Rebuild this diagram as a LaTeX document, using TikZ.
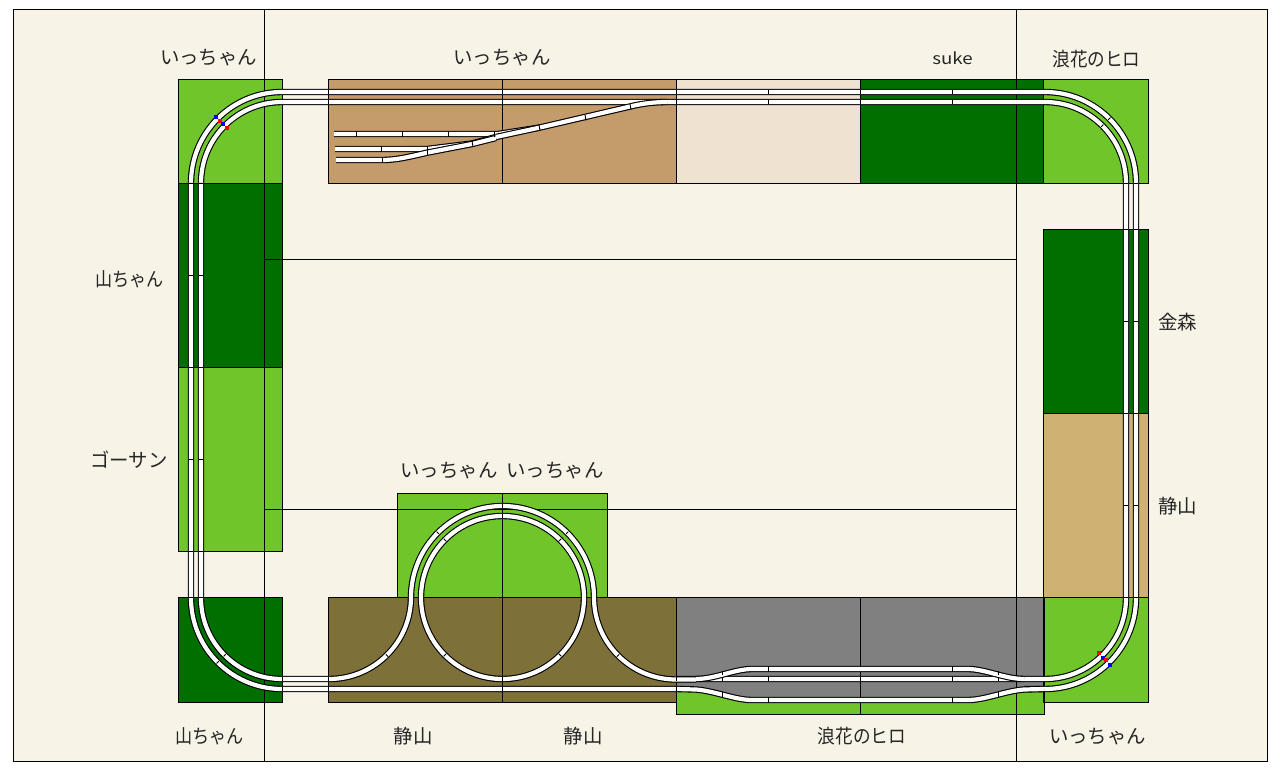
\documentclass[tikz,border=0pt]{standalone}
\usepackage{graphicx}
\usepackage{fontspec}
\setmainfont{Noto Sans CJK JP}
\definecolor{bgc}{HTML}{F7F3E6}
\definecolor{lg}{HTML}{70C52A}
\definecolor{dg}{HTML}{006F00}
\definecolor{brn}{HTML}{C49C6C}
\definecolor{pale}{HTML}{EFE2D0}
\definecolor{tan2}{HTML}{CFB173}
\definecolor{olv}{HTML}{7D7039}
\definecolor{gry}{HTML}{808080}
\tikzset{
  plate/.style={draw=black,line width=1pt},
  grid line/.style={black,line width=1pt},
  track/.style={draw=black,line width=1.1pt,double=white,double distance=4.2pt},
  tie/.style={black,line width=0.9pt},
  lab/.style={font=\fontsize{19.4}{20}\selectfont,inner sep=0pt,text=black!85},
  labs/.style={font=\fontsize{16}{18}\selectfont,inner sep=0pt,text=black!85},
  mk/.style={minimum size=3.8pt,inner sep=0pt,outer sep=0pt}
}
\newcommand{\tiesH}[2]{\foreach \a in {#2} {\draw[tie] (\a,#1-1.6) -- (\a,#1+1.6);}}
\newcommand{\tiesV}[2]{\foreach \a in {#2} {\draw[tie] (#1-1.6,\a) -- (#1+1.6,\a);}}
\newcommand{\tiesF}[2]{\foreach \a in {#2} {\draw[tie] (\a,#1-2.6) -- (\a,#1+2.6);}}
\newcommand{\tieR}[3]{\draw[tie] (#1,#2) ++(#3:-1.6) -- ++(#3:3.2);}
\begin{document}
\begin{tikzpicture}[x=1pt,y=-1pt]
\useasboundingbox (0,0) rectangle (1280,770);
\fill[white] (0,0) rectangle (1280,770);
\draw[plate,fill=bgc] (13.5,9.5) rectangle (1267.5,761.5);
% plates
\draw[plate,fill=lg] (178.5,79.5) rectangle (282.5,183.5);
\draw[plate,fill=dg] (178.5,183.5) rectangle (282.5,367.5);
\draw[plate,fill=lg] (178.5,367.5) rectangle (282.5,551.5);
\draw[plate,fill=dg] (178.5,597.5) rectangle (282.5,702.5);
\draw[plate,fill=brn] (328.5,79.5) rectangle (676.5,183.5);
\draw[plate,fill=pale] (676.5,79.5) rectangle (860.5,183.5);
\draw[plate,fill=dg] (860.5,79.5) rectangle (1043.7,183.5);
\draw[plate,fill=lg] (1043.7,79.5) rectangle (1148.5,183.5);
\draw[plate,fill=dg] (1043.7,229.5) rectangle (1148.5,413.5);
\draw[plate,fill=tan2] (1043.7,413.5) rectangle (1148.5,597.5);
\draw[plate,fill=lg] (1043.7,597.5) rectangle (1148.5,702.5);
\draw[plate,fill=lg] (397.5,493.5) rectangle (607.5,597.5);
\draw[plate,fill=olv] (328.5,597.5) rectangle (676.5,702.5);
\draw[plate,fill=lg] (676.5,597.5) rectangle (1044.5,714.5);
\fill[gry] (676.5,597.5) -- (1043.7,597.5) -- (1043.7,689) -- (1024,689.5)
  .. controls (1005,691) and (985,700) .. (968,700) -- (752,700)
  .. controls (735,700) and (715,691) .. (696,689.5) -- (676.5,689) -- cycle;
\draw[plate] (676.5,689) -- (676.5,597.5) -- (1043.7,597.5) -- (1043.7,702.5);
% grid lines
\draw[grid line] (264.5,9.5) -- (264.5,761.5);
\draw[grid line] (1016.5,9.5) -- (1016.5,761.5);
\draw[grid line] (264.5,259.5) -- (1016.5,259.5);
\draw[grid line] (264.5,509.5) -- (1016.5,509.5);
\draw[grid line] (502.5,79.5) -- (502.5,183.5);
\draw[grid line] (502.5,493.5) -- (502.5,702.5);
\draw[grid line] (860.5,597.5) -- (860.5,714.5);
% main oval, outer and inner
\draw[track] (191,183) arc[start angle=180,end angle=270,radius=91] -- (1045,92)
  arc[start angle=270,end angle=360,radius=91] -- (1136,598)
  arc[start angle=0,end angle=90,radius=91] -- (1024,689);
\draw[track] (201,183) arc[start angle=180,end angle=270,radius=81] -- (1045,102)
  arc[start angle=270,end angle=360,radius=81] -- (1126,598)
  arc[start angle=0,end angle=90,radius=81] -- (676,679);
\draw[track] (191,183) -- (191,598) arc[start angle=180,end angle=90,radius=91] -- (676,689);
\draw[track] (201,183) -- (201,598) arc[start angle=180,end angle=90,radius=81] -- (329,679)
  arc[start angle=90,end angle=0,radius=82] -- (411,597.5)
  arc[start angle=180,end angle=360,radius=91.5]
  arc[start angle=180,end angle=90,radius=82] -- (696,679.5);
\draw[track] (502.5,516) arc[start angle=270,end angle=630,radius=81.5];
% passing loop
\draw[track] (676,689) -- (696,689.5) .. controls (715,691) and (735,700) .. (752,700) -- (968,700)
  .. controls (985,700) and (1005,691) .. (1024,689.5) -- (1044,689);
\draw[track] (696,679) .. controls (715,679) and (735,669) .. (752,669) -- (968,669)
  .. controls (985,669) and (1005,679) .. (1024,679);
% yard
\draw[track] (334,134) -- (498,134) -- (540,127.5) -- (585,117) -- (630,106.5) .. controls (642,103.5) and (655,102) .. (667,102);
\draw[track] (335,149) -- (427,149) -- (472,143.5) -- (496,137);
\draw[track] (336,160) -- (382,160) .. controls (398,160) and (412,156) .. (428,152.5) -- (472,144) -- (496,138);
\draw[track] (496,137) -- (540,127.5);
% ties
\tiesH{92}{328,502,676,768,860,952}
\tiesH{102}{328,502,676,768,860,952}
\tiesV{191}{183,275,367,459,551,597}
\tiesV{201}{183,275,367,459,551,597}
\tiesV{1126}{183,229,321,413,505,597}
\tiesV{1136}{183,229,321,413,505,597}
\tiesH{689}{282,328,502,676}
\tiesH{679}{282,328,676}
\tiesH{679}{722,768,860,952,998}
\tiesF{669}{768,952}
\tiesF{700}{768,952}
\draw[tie] (722,670.5) -- (722,675);
\draw[tie] (722,692) -- (722,696.5);
\draw[tie] (998,670.5) -- (998,675);
\draw[tie] (998,692) -- (998,696.5);
\tiesF{134}{356,402,448,494}
\tiesF{149}{381,427}
\tiesF{160}{382}
\draw[tie] (427.5,150) -- (427.5,156);
\draw[tie] (472,141) -- (473,147);
\draw[tie] (539,125) -- (540,131);
\draw[tie] (585,115) -- (586,120.5);
\draw[tie] (630,104) -- (631,110);
\tiesH{506}{502}\tiesH{516}{502}\tiesH{679}{502}
\tieR{217.65}{662.35}{-45}\tieR{224.7}{655.3}{-45}
\tieR{1109.35}{118.65}{-45}\tieR{1102.3}{125.7}{-45}
\tieR{437.8}{532.8}{45}\tieR{567.2}{532.8}{-45}
\tieR{444.9}{539.9}{45}\tieR{560.1}{539.9}{-45}
\tieR{444.9}{655.1}{-45}\tieR{560.1}{655.1}{45}
\tieR{387}{655.5}{45}\tieR{618}{655.5}{-45}
% markers
\node[mk,fill=blue] (b1) at (216.3,116.7) {};
\node[mk,fill=red] (r1) at (220.3,121.3) {};
\node[mk,fill=blue] (b2) at (223.3,123.7) {};
\node[mk,fill=red] (r2) at (227.3,128.3) {};
\node[mk,fill=red] (r3) at (1099.3,653.3) {};
\node[mk,fill=blue] (b3) at (1103.3,658) {};
\node[mk,fill=red] (r4) at (1106.3,660.3) {};
\node[mk,fill=blue] (b4) at (1110.3,665.3) {};
% labels
\node[lab] (l1) at (208.5,58) {いっちゃん};
\node[lab] (l2) at (502,58) {いっちゃん};
\node[labs] (l3) at (952.5,58) {\scalebox{1.17}[1]{suke}};
\node[lab] (l4) at (1096.5,59) {\scalebox{.91}[1]{浪花のヒロ}};
\node[lab] (l5) at (129.5,279) {\scalebox{.88}[1]{山ちゃん}};
\node[lab] (l6) at (1177.5,322) {金森};
\node[lab] (l7) at (129,460) {ゴーサン};
\node[lab] (l8) at (1177.5,506) {静山};
\node[lab] (l9) at (449,471) {いっちゃん};
\node[lab] (l10) at (555,471) {いっちゃん};
\node[lab] (l11) at (209.5,736) {\scalebox{.88}[1]{山ちゃん}};
\node[lab] (l12) at (413,736) {静山};
\node[lab] (l13) at (583,736) {静山};
\node[lab] (l14) at (862,736) {\scalebox{.91}[1]{浪花のヒロ}};
\node[lab] (l15) at (1097.5,737) {いっちゃん};
\end{tikzpicture}
\end{document}
